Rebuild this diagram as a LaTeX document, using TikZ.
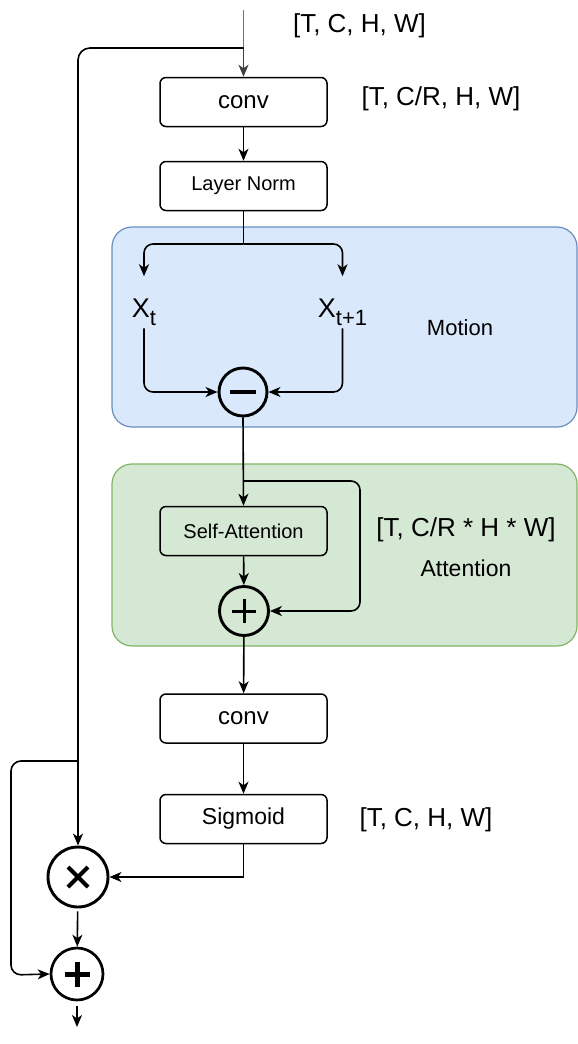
\documentclass[tikz,border=0pt]{standalone}
\usepackage{fontspec}
\setmainfont{Liberation Sans}
\usetikzlibrary{arrows.meta,calc}
\definecolor{mfill}{HTML}{DAE8FC}
\definecolor{mdraw}{HTML}{6C8EBF}
\definecolor{afill}{HTML}{D5E8D4}
\definecolor{adraw}{HTML}{82B366}
\newcommand{\fs}[1]{\fontsize{#1}{#1}\selectfont}
\begin{document}
\begin{tikzpicture}[x=1pt,y=-1pt,
  box/.style={draw, line width=1.5pt, rounded corners=6pt, minimum width=167pt, minimum height=49pt, inner sep=0pt},
  grp/.style={line width=1.2pt, rounded corners=20pt, inner sep=0pt},
  op/.style={circle, draw, line width=2.9pt, inner sep=0pt},
  sym/.style={line width=3.5pt},
  lbl/.style={inner sep=0pt, font=\fs{26}},
  xlbl/.style={inner sep=0pt, anchor=base, font=\fs{27}},
  arr/.style={line width=1.6pt, -{Stealth[length=12pt,width=10pt,inset=3.5pt]}},
  ln/.style={line width=1.6pt},
]
\useasboundingbox (0,0) rectangle (578,1044);
% group backgrounds
\node[grp, draw=mdraw, fill=mfill, minimum width=465pt, minimum height=200pt] (motion) at (344.5,327) {};
\node[grp, draw=adraw, fill=afill, minimum width=465pt, minimum height=182pt] (attn) at (344.5,555) {};
% boxes
\node[box, font=\fs{24}] (conv1) at (243.5,102) {conv};
\node[box, font=\fs{20}] (lnorm) at (243.5,186) {Layer Norm};
\node[box, font=\fs{20}] (sa) at (243.5,531) {Self-Attention};
\node[box, font=\fs{24}] (conv2) at (243.5,718.5) {conv};
\node[box, font=\fs{23}] (sig) at (243.5,819) {Sigmoid};
% x nodes
\node[xlbl] (xt) at (144,317) {X\raisebox{-8pt}{\fs{22}t}};
\node[xlbl] (xt1) at (342.5,317) {X\raisebox{-8pt}{\fs{22}t+1}};
% operators
\node[op, minimum size=48pt] (minus) at (243,392) {};
\draw[sym] ($(minus.center)+(-13,0)$) -- ($(minus.center)+(13,0)$);
\node[op, minimum size=49pt] (plus) at (244,611) {};
\draw[sym, line width=3pt] ($(plus.center)+(-12,0)$) -- ($(plus.center)+(12,0)$)
  ($(plus.center)+(0,-12)$) -- ($(plus.center)+(0,12)$);
\node[op, minimum size=60pt] (times) at (78,877) {};
\draw[sym, line width=4pt] ($(times.center)+(-10,-10)$) -- ($(times.center)+(10,10)$)
  ($(times.center)+(-10,10)$) -- ($(times.center)+(10,-10)$);
\node[op, line width=2.7pt, minimum size=52pt] (plus2) at (77,974) {};
\draw[sym, line width=5pt] ($(plus2.center)+(-12.5,0)$) -- ($(plus2.center)+(12.5,0)$)
  ($(plus2.center)+(0,-12.5)$) -- ($(plus2.center)+(0,12.5)$);
% labels
\node[lbl] (l1) at (359.5,26) {[T, C, H, W]};
\node[lbl] (l2) at (441,98.5) {[T, C/R, H, W]};
\node[lbl, font=\fs{22}] (lmot) at (460,328) {Motion};
\node[lbl] (l3) at (466,530) {[T, C/R * H * W]};
\node[lbl, font=\fs{23}] (latt) at (466,568) {Attention};
\node[lbl] (l4) at (426,820) {[T, C, H, W]};
% coordinates
\coordinate (in) at (243.5,10);
\coordinate (s1) at (243.5,48);
\coordinate (s2) at (243.5,244);
\coordinate (s3) at (243.5,481);
\coordinate (r3) at (360,481);
\coordinate (s4) at (77,761);
\coordinate (l5) at (11,975);
\coordinate (out) at (77,1027);
\coordinate (xtb) at (143.3,393);
\coordinate (xt1b) at (343.3,393);
% connectors
\draw[line width=1.3pt, black!55] (in) -- (s1);
\draw[arr, black!75] (s1) -- (conv1.north);
\draw[arr, rounded corners=12pt] (s1) -| (times.north);
\draw[arr] (conv1) -- (lnorm);
\draw[ln] (lnorm.south) -- (s2);
\draw[arr, rounded corners=9pt, shorten >=22pt] (s2) -| (xt.north);
\draw[arr, rounded corners=9pt, shorten >=22pt] (s2) -| (xt1.north);
\draw[arr, rounded corners=9pt] (xt.south) ++(0,3) |- (minus.west);
\draw[arr, rounded corners=9pt] (xt1.south) ++(0,3) |- (minus.east);
\draw[arr] (minus.south) -- (sa.north);
\draw[arr, rounded corners=9pt] (s3) -- (r3) |- (plus.east);
\draw[arr] (sa) -- (plus);
\draw[arr] (plus) -- (conv2);
\draw[arr] (conv2) -- (sig);
\draw[arr] (sig.south) |- (times.east);
\draw[arr, rounded corners=10pt] (s4) -| (l5) -- (plus2.west);
\draw[arr, shorten <=3pt] (times) -- (plus2);
\draw[arr, shorten <=5pt] (plus2.south) -- (out);
\end{tikzpicture}
\end{document}
